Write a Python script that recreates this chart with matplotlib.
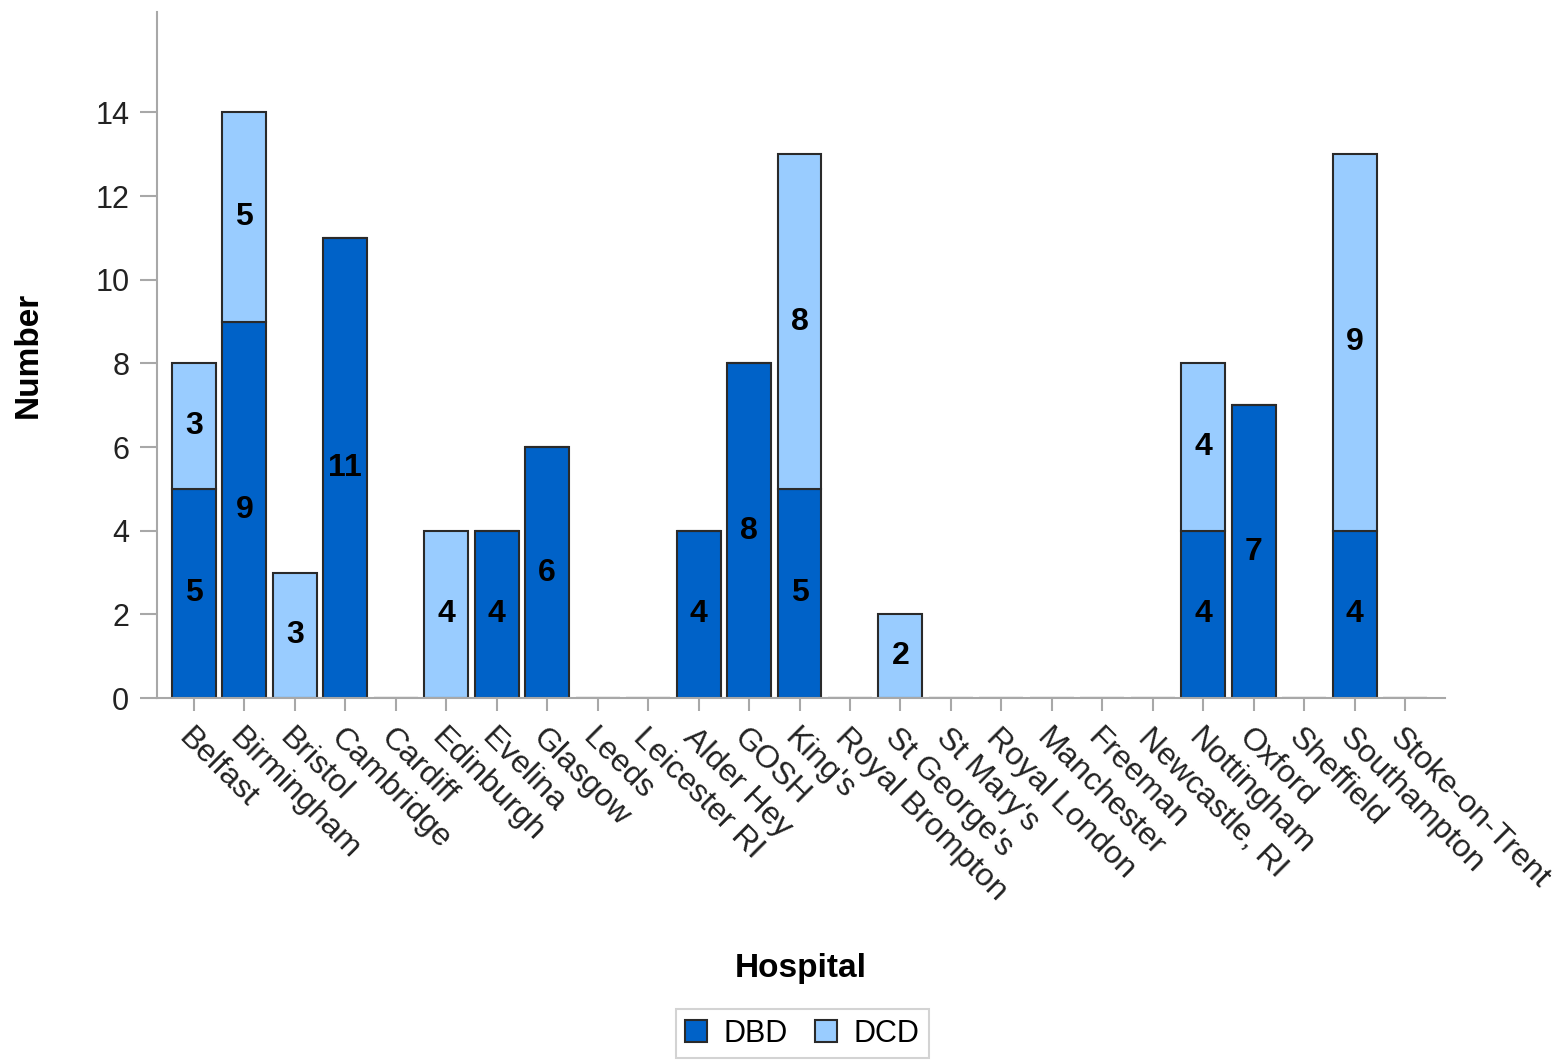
import numpy as np
import matplotlib.pyplot as plt

hospitals = ["Belfast", "Birmingham", "Bristol", "Cambridge", "Cardiff", "Edinburgh",
             "Evelina", "Glasgow", "Leeds", "Leicester RI", "Alder Hey", "GOSH", "King's",
             "Royal Brompton", "St George's", "St Mary's", "Royal London", "Manchester",
             "Freeman", "Newcastle, RI", "Nottingham", "Oxford", "Sheffield",
             "Southampton", "Stoke-on-Trent"]
dbd = [5, 9, 0, 11, 0, 0, 4, 6, 0, 0, 4, 8, 5, 0, 0, 0, 0, 0, 0, 0, 4, 7, 0, 4, 0]
dcd = [3, 5, 3, 0, 0, 4, 0, 0, 0, 0, 0, 0, 8, 0, 2, 0, 0, 0, 0, 0, 4, 0, 0, 9, 0]

plt.rcParams['font.family'] = ['Liberation Sans', 'DejaVu Sans']

dbd_col = '#0062C8'
dcd_col = '#99CCFF'
edge = '#2a2a2a'
grey = '#A8A8A8'

fig = plt.figure(figsize=(15.61, 10.61), dpi=100)
ax = fig.add_axes([0.1006, 0.3421, 0.8251, 0.6466])

x = np.arange(len(hospitals))
w = 0.87
b1 = ax.bar(x, dbd, w, color=dbd_col, edgecolor=edge, linewidth=1.5, label='DBD')
b2 = ax.bar(x, dcd, w, bottom=dbd, color=dcd_col, edgecolor=edge, linewidth=1.5, label='DCD')

# value labels in the middle of each segment
for i in range(len(x)):
    if dbd[i] > 0:
        ax.text(x[i], dbd[i] / 2, str(dbd[i]), ha='center', va='center',
                fontsize=23, fontweight='bold', color='black')
    if dcd[i] > 0:
        ax.text(x[i], dbd[i] + dcd[i] / 2, str(dcd[i]), ha='center', va='center',
                fontsize=23, fontweight='bold', color='black')

ax.set_xlim(-0.73, 24.79)
ax.set_ylim(0, 16.4)
ax.set_yticks(range(0, 15, 2))
ax.set_xticks(x)
ax.set_xticklabels(hospitals, rotation=-45, ha='left', va='top', rotation_mode='anchor')

for s in ['top', 'right']:
    ax.spines[s].set_visible(False)
for s in ['left', 'bottom']:
    ax.spines[s].set_color(grey)
    ax.spines[s].set_linewidth(1.5)
ax.tick_params(axis='y', length=12, width=1.5, color=grey, labelsize=22, pad=8, labelcolor='#222222')
ax.tick_params(axis='x', length=9, width=1.5, color=grey, labelsize=23, pad=9, labelcolor='#222222')

ax.set_ylabel('Number', fontsize=24, fontweight='bold', va='center')
ax.yaxis.set_label_coords(-0.1, 0.5)
ax.set_xlabel('Hospital', fontsize=24, fontweight='bold', va='center')
ax.xaxis.set_label_coords(0.5, -0.3936)

leg = fig.legend(handles=[b1, b2], loc='lower center', bbox_to_anchor=(0.514, 0.003),
                 ncol=2, fontsize=22, frameon=True, fancybox=False, borderaxespad=0,
                 borderpad=0.3, handlelength=0.7, handleheight=0.7,
                 columnspacing=0.9, handletextpad=0.55)
leg.get_frame().set_edgecolor('#C8C8C8')
leg.get_frame().set_linewidth(1.5)

fig.savefig('out.png', dpi=100)
